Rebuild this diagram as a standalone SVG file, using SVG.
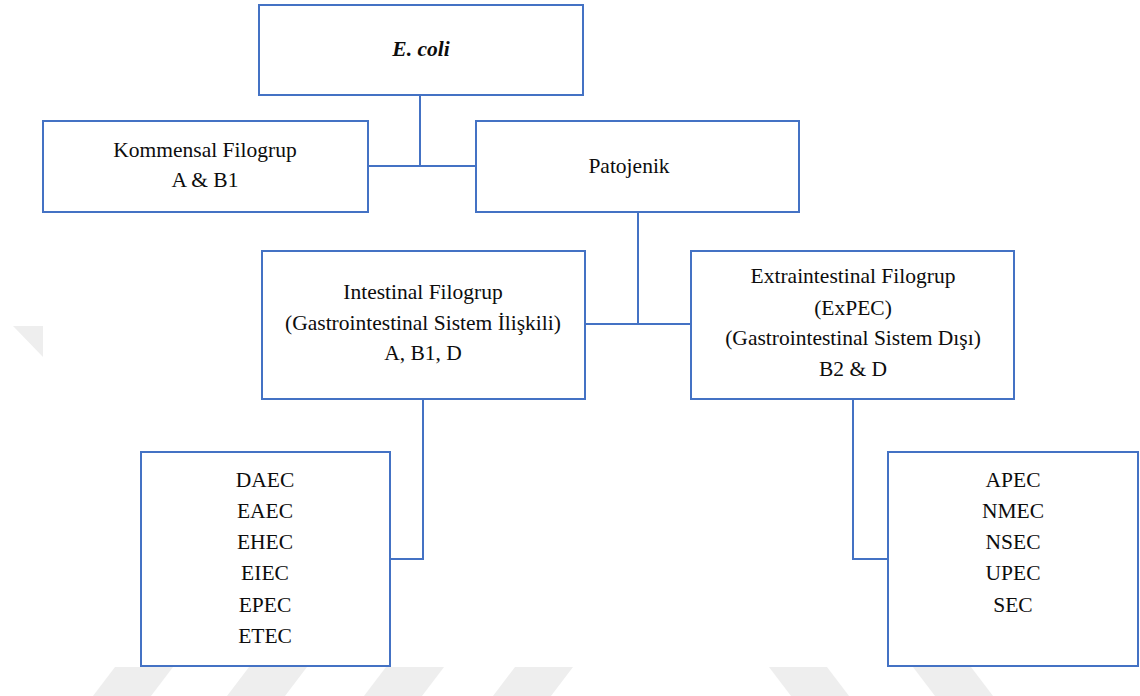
<svg xmlns="http://www.w3.org/2000/svg" width="1140" height="696" viewBox="0 0 1140 696">
  <defs>
    <style>
      .box { fill: #ffffff; stroke: #4472C4; stroke-width: 2; }
      .conn { fill: none; stroke: #4472C4; stroke-width: 2; }
      .wm { fill: #eeeeee; stroke: none; }
      text { font-family: 'Liberation Serif', 'Times New Roman', serif; font-size: 21.5px; fill: #0d0d0d; text-anchor: middle; }
      .it { font-style: italic; font-weight: bold; }
    </style>
  </defs>
  <rect x="0" y="0" width="1140" height="696" fill="#ffffff"/>
  <g id="watermark">
    <polygon class="wm" points="13,326 43,326 43,357"/>
    <polygon class="wm" points="93,696 151,696 173,667 115,667"/>
    <polygon class="wm" points="227,696 285,696 307,667 249,667"/>
    <polygon class="wm" points="364,696 422,696 444,667 386,667"/>
    <polygon class="wm" points="493,696 551,696 573,667 515,667"/>
    <polygon class="wm" points="769,667 827,667 849,696 791,696"/>
    <polygon class="wm" points="913,667 971,667 993,696 935,696"/>
  </g>
  <g id="connectors">
    <line class="conn" x1="420" y1="95" x2="420" y2="166"/>
    <line class="conn" x1="368" y1="166" x2="476" y2="166"/>
    <line class="conn" x1="638" y1="212" x2="638" y2="324"/>
    <line class="conn" x1="585" y1="324" x2="691" y2="324"/>
    <polyline class="conn" points="423,399 423,559 390,559"/>
    <polyline class="conn" points="853,399 853,559 888,559"/>
  </g>
  <g id="ecoli">
    <rect class="box" x="259" y="5" width="324" height="90"/>
    <text class="it" x="421" y="56">E. coli</text>
  </g>
  <g id="kommensal">
    <rect class="box" x="43" y="121" width="325" height="91"/>
    <text x="205" y="157">Kommensal Filogrup</text>
    <text x="205" y="187">A &amp; B1</text>
  </g>
  <g id="patojenik">
    <rect class="box" x="476" y="121" width="323" height="91"/>
    <text x="629" y="173">Patojenik</text>
  </g>
  <g id="intestinal">
    <rect class="box" x="262" y="251" width="323" height="148"/>
    <text x="423" y="299">Intestinal Filogrup</text>
    <text x="423" y="330">(Gastrointestinal Sistem İlişkili)</text>
    <text x="423" y="360">A, B1, D</text>
  </g>
  <g id="extraintestinal">
    <rect class="box" x="691" y="251" width="323" height="148"/>
    <text x="853" y="283">Extraintestinal Filogrup</text>
    <text x="853" y="315">(ExPEC)</text>
    <text x="853" y="345">(Gastrointestinal Sistem Dışı)</text>
    <text x="853" y="376">B2 &amp; D</text>
  </g>
  <g id="intestinal-list">
    <rect class="box" x="141" y="452" width="249" height="214"/>
    <text x="265" y="487">DAEC</text>
    <text x="265" y="518">EAEC</text>
    <text x="265" y="549">EHEC</text>
    <text x="265" y="580">EIEC</text>
    <text x="265" y="612">EPEC</text>
    <text x="265" y="643">ETEC</text>
  </g>
  <g id="extraintestinal-list">
    <rect class="box" x="888" y="452" width="250" height="214"/>
    <text x="1013" y="487">APEC</text>
    <text x="1013" y="518">NMEC</text>
    <text x="1013" y="549">NSEC</text>
    <text x="1013" y="580">UPEC</text>
    <text x="1013" y="612">SEC</text>
  </g>
</svg>
